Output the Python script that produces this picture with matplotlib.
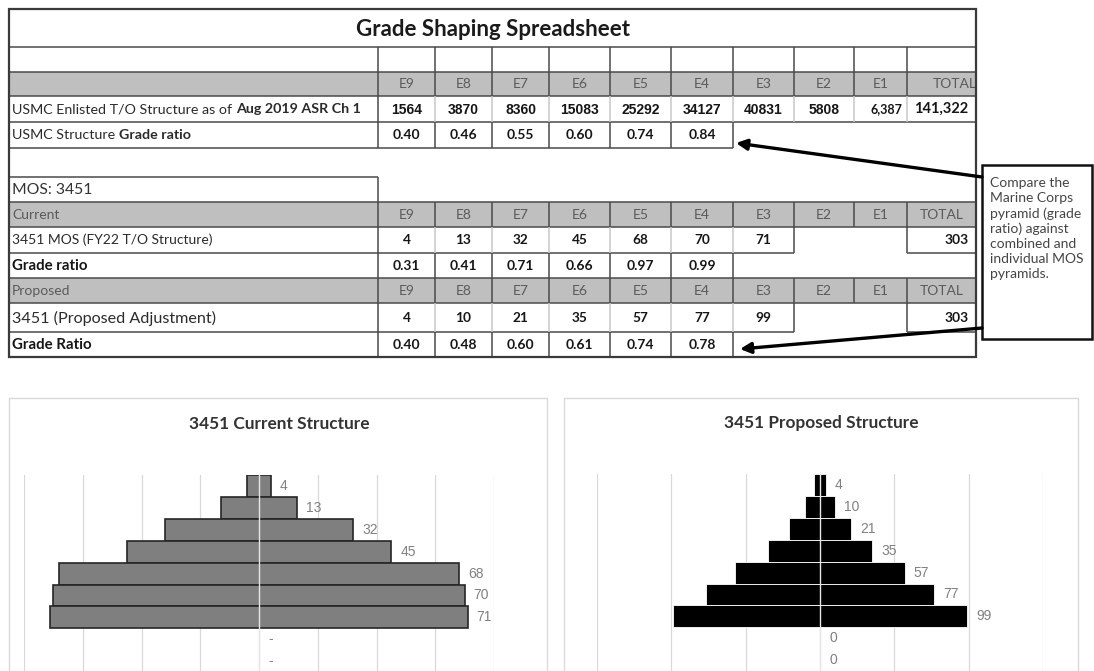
import matplotlib
matplotlib.use("Agg")
import matplotlib.pyplot as plt
from matplotlib.patches import Rectangle
import numpy as np

# ---------------- data ----------------
grades = ["E9", "E8", "E7", "E6", "E5", "E4", "E3", "E2", "E1"]
usmc_counts = [1564, 3870, 8360, 15083, 25292, 34127, 40831, 5808, 6387]
usmc_total = 141322
usmc_ratio = [0.40, 0.46, 0.55, 0.60, 0.74, 0.84]
current_counts = [4, 13, 32, 45, 68, 70, 71, 0, 0]
current_ratio = [0.31, 0.41, 0.71, 0.66, 0.97, 0.99]
current_total = 303
proposed_counts = [4, 10, 21, 35, 57, 77, 99, 0, 0]
proposed_ratio = [0.40, 0.48, 0.60, 0.61, 0.74, 0.78]
proposed_total = 303

title = "Grade Shaping Spreadsheet"
callout = "Compare the\nMarine Corps\npyramid (grade\nratio) against\ncombined and\nindividual MOS\npyramids."

# ---------------- figure ----------------
W, H = 1094, 671
fig = plt.figure(figsize=(W / 100, H / 100), dpi=100)
bg = fig.add_axes([0, 0, 1, 1])
bg.set_xlim(0, W)
bg.set_ylim(H, 0)
bg.axis("off")

TF = ["Lato", "DejaVu Sans"]
NF = ["Liberation Sans Narrow", "Liberation Sans", "DejaVu Sans"]
dark = "#4a4a4a"
light = "#c8c8c8"
grayfill = "#bfbfbf"
txt = "#2b2b2b"
hdr = "#5a5a5a"
val_c = "#161616"

L, R = 9, 976
cols = [378, 435, 492, 549, 610, 671, 733, 794, 854, 907, 976]
cc = [(cols[i] + cols[i + 1]) / 2 for i in range(len(cols) - 1)]


def h(y, x0, x1, c=dark, lw=1.1):
    bg.plot([x0, x1], [y, y], color=c, lw=lw, solid_capstyle="butt", zorder=3)


def v(x, y0, y1, c=dark, lw=1.1):
    bg.plot([x, x], [y0, y1], color=c, lw=lw, solid_capstyle="butt", zorder=3)


# gray header fills
for (y0, y1) in [(72, 96), (202, 227), (278, 303)]:
    bg.add_patch(Rectangle((L, y0), R - L, y1 - y0, facecolor=grayfill, edgecolor="none", zorder=1))

# horizontal lines
for y in [47, 72, 96, 122, 202, 227, 278, 303]:
    h(y, L, R)
h(148, L, cols[6])
h(177, L, cols[0])
for y in [253, 332]:
    h(y, L, cols[7])
    h(y, cols[9], R)

# vertical lines
for x in cols[:10]:
    v(x, 47, 96)
    v(x, 96, 122, c=dark if x == cols[0] else light)
    v(x, 202, 227)
    v(x, 278, 303)
for x in cols[:7]:
    v(x, 122, 148)
    v(x, 253, 278)
    v(x, 332, 357)
v(cols[0], 177, 202)
for (y0, y1) in [(227, 253), (303, 332)]:
    for x in cols[:8]:
        v(x, y0, y1, c=dark if x in (cols[0], cols[7]) else light)
    v(cols[9], y0, y1)

# outer border
bg.add_patch(Rectangle((L, 9), R - L, 357 - 9, facecolor="none", edgecolor="#3a3a3a", lw=1.6, zorder=4))

# title
bg.text((L + R) / 2, 29, title, ha="center", va="center", fontsize=16, fontweight="bold",
        family=TF, color="#1a1a1a")


def rich(x, y, parts, size, color=txt):
    s, w = parts[0]
    t = bg.text(x, y, s, ha="left", va="center", fontsize=size, fontweight=w, family=TF, color=color)
    for s, w in parts[1:]:
        t = bg.annotate(s, xy=(1, 0), xycoords=t, xytext=(2.8, 0), textcoords="offset points",
                        ha="left", va="bottom", fontsize=size, fontweight=w, family=TF, color=color)
    return t


def headers(y, first, total_ha="center"):
    for i, g in enumerate(grades):
        bg.text(cc[i], y, g, ha="center", va="center", fontsize=10, family=TF, color=hdr)
    if total_ha == "right":
        bg.text(R + 1, y, "TOTAL", ha="right", va="center", fontsize=10, family=TF, color=hdr)
    else:
        bg.text(cc[-1], y, "TOTAL", ha="center", va="center", fontsize=10, family=TF, color=hdr)
    if first:
        bg.text(12, y, first, ha="left", va="center", fontsize=10, family=TF, color=hdr)


# USMC rows
headers(84.5, None, total_ha="right")
rich(12, 109, [("USMC Enlisted T/O Structure as of", "normal"), ("Aug 2019 ASR Ch 1", "bold")], 10.3)
for i, val in enumerate(usmc_counts):
    if grades[i] == "E1":
        bg.text(cols[i + 1] - 5, 109, f"{val:,}", ha="right", va="center", fontsize=9,
                fontweight="bold", family=TF, color=val_c)
    else:
        bg.text(cc[i], 109.5, f"{val}", ha="center", va="center", fontsize=10,
                fontweight="bold", family=NF, color=val_c)
bg.text(cc[-1], 109, f"{usmc_total:,}", ha="center", va="center", fontsize=10.5,
        fontweight="bold", family=TF, color=val_c)
rich(12, 135, [("USMC Structure", "normal"), ("Grade ratio", "bold")], 10.3)
for i, r in enumerate(usmc_ratio):
    bg.text(cc[i], 135, f"{r:.2f}", ha="center", va="center", fontsize=10,
            fontweight="bold", family=TF, color=val_c)

# MOS block
bg.text(12, 190, "MOS: 3451", ha="left", va="center", fontsize=11.3, family=TF, color="#333333")


def mos_block(y_hdr, y_cnt, y_rat, hdr_label, cnt_label, cnt_size, rat_label, rat_size,
              counts, ratios, total):
    headers(y_hdr, hdr_label)
    bg.text(12, y_cnt, cnt_label, ha="left", va="center", fontsize=cnt_size, family=TF, color=txt)
    for i, c in enumerate(counts):
        if c > 0:
            bg.text(cc[i], y_cnt, f"{c}", ha="center", va="center", fontsize=9.8,
                    fontweight="bold", family=TF, color=val_c)
    bg.text(R - 7, y_cnt, f"{total}", ha="right", va="center", fontsize=10,
            fontweight="bold", family=TF, color=val_c)
    bg.text(12, y_rat, rat_label, ha="left", va="center", fontsize=rat_size, fontweight="bold",
            family=TF, color=val_c)
    for i, r in enumerate(ratios):
        bg.text(cc[i], y_rat, f"{r:.2f}", ha="center", va="center", fontsize=10,
                fontweight="bold", family=TF, color=val_c)


mos_block(215, 240, 266, "Current", "3451 MOS (FY22 T/O Structure)", 10, "Grade ratio", 10.8,
          current_counts, current_ratio, current_total)
mos_block(291, 318, 345, "Proposed", "3451 (Proposed Adjustment)", 11.6, "Grade Ratio", 10.8,
          proposed_counts, proposed_ratio, proposed_total)

# callout box and arrows
bg.add_patch(Rectangle((982, 165), 1092 - 982, 339 - 165, facecolor="white", edgecolor="#111111",
                       lw=1.8, zorder=5))
bg.text(990, 177, callout, ha="left", va="top", fontsize=10, family=TF, color="#454545",
        linespacing=1.3, zorder=6)
for tip, tail in [((736, 143), (982, 177)), ((740, 349), (982, 328))]:
    bg.annotate("", xy=tip, xytext=tail,
                arrowprops=dict(arrowstyle="-|>", color="black", lw=2.4, mutation_scale=16,
                                shrinkA=0, shrinkB=0), zorder=6)

# chart panels
for (x0, x1) in [(9, 547), (564, 1078)]:
    bg.add_patch(Rectangle((x0, 398), x1 - x0, 300, facecolor="none", edgecolor="#d9d9d9", lw=1.0, zorder=1))
bg.text(279, 424, "3451 Current Structure", ha="center", va="center", fontsize=12.4,
        fontweight="bold", family=TF, color="#333333")
bg.text(821, 423, "3451 Proposed Structure", ha="center", va="center", fontsize=12.4,
        fontweight="bold", family=TF, color="#333333")


def pyramid(px0, px1, py0, vals, lim, step, face, edge, elw, zero_label):
    band = 21.9
    py1 = py0 + band * len(vals)
    ax = fig.add_axes([px0 / W, 1 - py1 / H, (px1 - px0) / W, (py1 - py0) / H])
    ax.set_facecolor("none")
    y = np.arange(len(vals))
    lws = [elw if val > 0 else 0 for val in vals]
    ax.barh(y, [2 * val for val in vals], left=[-val for val in vals], height=1.0,
            color=face, edgecolor=edge, linewidth=lws, zorder=2)
    ax.axvline(0, color="#e6e6e6", lw=1.0, zorder=3)
    ax.set_xlim(-lim, lim)
    ax.set_ylim(len(vals) - 0.5, -0.5)
    ax.set_xticks(np.arange(-lim, lim + 1, step))
    ax.grid(axis="x", color="#d9d9d9", lw=0.9, zorder=0)
    ax.set_axisbelow(True)
    ax.tick_params(length=0, labelbottom=False, labelleft=False)
    for s in ax.spines.values():
        s.set_visible(False)
    for i, val in enumerate(vals):
        lab = f"{val}" if val > 0 else zero_label
        ax.annotate(lab, xy=(val, i), xytext=(6.5, 0), textcoords="offset points",
                    ha="left", va="center", fontsize=10, family=NF, color="#808080", zorder=4)
    return ax


pyramid(24, 494, 475, current_counts, 80, 20, "#7f7f7f", "#262626", 1.2, "-")
pyramid(597, 1043, 474, proposed_counts, 150, 50, "black", "white", 0.6, "0")

fig.savefig("out.png", dpi=100)
